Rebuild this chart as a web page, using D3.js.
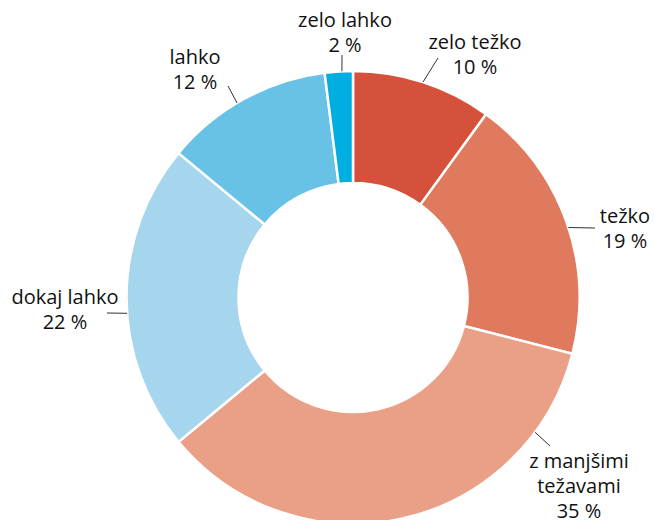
<!DOCTYPE html>
<html>
<head>
<meta charset="utf-8">
<script src="https://cdn.jsdelivr.net/npm/d3@7"></script>
<style>
  body { margin: 0; background: #fff; }
  text { font-family: "Open Sans", sans-serif; font-size: 20px; fill: #111; }
</style>
</head>
<body>
<div id="chart"></div>
<script>
// data
var categories = ["zelo težko", "težko", "z manjšimi težavami", "dokaj lahko", "lahko", "zelo lahko"];
var values = [10, 19, 35, 22, 12, 2];
var labelLines = [["zelo težko"], ["težko"], ["z manjšimi", "težavami"], ["dokaj lahko"], ["lahko"], ["zelo lahko"]];
var colors = ["#d6513b", "#e07a5f", "#e9a087", "#a6d5ee", "#67c2e5", "#00aedf"];

// label layout: leader start angle on outer ring (deg), leader end, text centre + first baseline
var labelLayout = [
    { a: 18, ex: 438, ey: 58, tx: 475, ty: 49 },
    { a: 72, ex: 595, ey: 228, tx: 625, ty: 223 },
    { a: 126.5, ex: 550, ey: 446, tx: 579, ty: 468 },
    { a: 266, ex: 107, ey: 313, tx: 65, ty: 304 },
    { a: 329.2, ex: 228, ey: 86, tx: 195, ty: 64 },
    { a: 357.2, ex: 342, ey: 55, tx: 345, ty: 27 }
];

var width = 654, height = 520;
var cx = 353, cy = 297.5, outerR = 226.5, innerR = 114.5;

var svg = d3.select("#chart")
    .append("svg")
    .attr("width", width)
    .attr("height", height);

var g = svg.append("g")
    .attr("transform", "translate(" + cx + "," + cy + ")");

var pie = d3.pie().sort(null).value(function (d) { return d; });
var arc = d3.arc().innerRadius(innerR).outerRadius(outerR);

g.selectAll("path")
    .data(pie(values))
    .enter()
    .append("path")
    .attr("d", arc)
    .style("fill", function (d, i) { return colors[i]; })
    .style("stroke", "#fff")
    .style("stroke-width", 2.5);

// leader lines
svg.selectAll("line.leader")
    .data(labelLayout)
    .enter()
    .append("line")
    .attr("class", "leader")
    .attr("x1", function (d) { return cx + outerR * Math.sin(d.a * Math.PI / 180); })
    .attr("y1", function (d) { return cy - outerR * Math.cos(d.a * Math.PI / 180); })
    .attr("x2", function (d) { return d.ex; })
    .attr("y2", function (d) { return d.ey; })
    .style("stroke", "#333")
    .style("stroke-width", 1);

// labels
var labels = svg.selectAll("text.lbl")
    .data(categories)
    .enter()
    .append("text")
    .attr("class", "lbl")
    .attr("text-anchor", "middle");

labels.each(function (d, i) {
    var t = d3.select(this);
    var L = labelLayout[i];
    var lines = labelLines[i].concat([values[i] + " %"]);
    lines.forEach(function (s, j) {
        t.append("tspan")
            .attr("x", L.tx)
            .attr("y", L.ty + j * 25)
            .text(s);
    });
});
</script>
</body>
</html>
